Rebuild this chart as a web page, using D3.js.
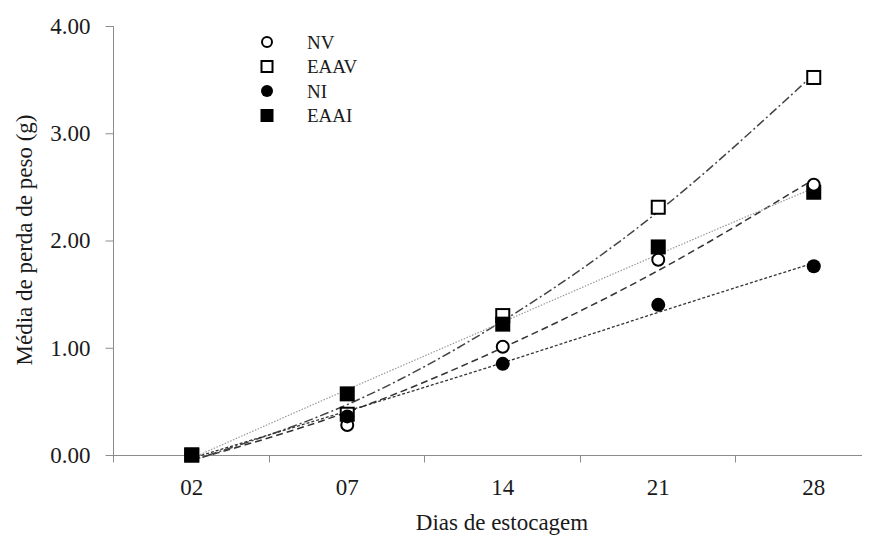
<!DOCTYPE html>
<html>
<head>
<meta charset="utf-8">
<script src="https://cdn.jsdelivr.net/npm/d3@7"></script>
<style>
  body { margin: 0; background: #fff; }
  text { font-family: "Liberation Serif", "Times New Roman", serif; fill: #1a1a1a; }
</style>
</head>
<body>
<div id="chart-area"></div>
<script>
const W = 881, H = 536
const MARGIN = { LEFT: 114, RIGHT: 19, TOP: 26, BOTTOM: 81 }

const dias = ["02", "07", "14", "21", "28"]
const yTicks = [0, 1, 2, 3, 4]

// observed means
const nv   = [0, 0.28, 1.01, 1.82, 2.52]
const eaav = [0, 0.38, 1.30, 2.31, 3.52]
const ni   = [0, 0.36, 0.85, 1.40, 1.76]
const eaai = [0, 0.57, 1.22, 1.94, 2.45]

// trend lines, read at each day
const trendNV   = [-0.05, 0.40, 1.00, 1.72, 2.57]
const trendEAAV = [-0.05, 0.47, 1.25, 2.27, 3.55]
const trendNI   = [-0.03, 0.41, 0.86, 1.33, 1.79]
const trendEAAI = [-0.03, 0.61, 1.24, 1.87, 2.49]

const series = [
  { name: "NV",   values: nv,   trend: trendNV,   symbol: "circle", filled: false, dash: "7,4",     stroke: "#333", sw: 1.5 },
  { name: "EAAV", values: eaav, trend: trendEAAV, symbol: "square", filled: false, dash: "9,3,2,3", stroke: "#444", sw: 1.5 },
  { name: "NI",   values: ni,   trend: trendNI,   symbol: "circle", filled: true,  dash: "3,2",     stroke: "#333", sw: 1.3 },
  { name: "EAAI", values: eaai, trend: trendEAAI, symbol: "square", filled: true,  dash: "1.5,1.5", stroke: "#9a9a9a", sw: 1.2 }
]

const x = d3.scaleBand()
  .domain(dias)
  .range([MARGIN.LEFT, MARGIN.LEFT + 5 * 155.5])
  .padding(0)

const y = d3.scaleLinear()
  .domain([0, 4])
  .range([H - MARGIN.BOTTOM, MARGIN.TOP])   // 0 at 455, 4 at 26

const axisColor = "#8c8c8c"
const xEnd = 862

const svg = d3.select("#chart-area").append("svg")
  .attr("width", W)
  .attr("height", H)

// y axis
svg.append("g")
  .attr("transform", `translate(${MARGIN.LEFT - 0.5},0)`)
  .call(d3.axisLeft(y).tickValues(yTicks).tickFormat(d3.format(".2f")).tickSize(8).tickPadding(15).tickSizeOuter(0))
  .call(g => g.select(".domain").attr("stroke", axisColor).attr("d", `M0,${y(4)}V${y(0) + 7}`))
  .call(g => g.selectAll(".tick line").attr("stroke", axisColor))
  .call(g => g.selectAll(".tick text").attr("font-size", 23).attr("fill", "#1a1a1a"))

// x axis
svg.append("g")
  .attr("transform", `translate(0,${y(0) + 0.5})`)
  .call(d3.axisBottom(x).tickSize(0).tickPadding(23))
  .call(g => g.select(".domain").remove())
  .call(g => g.selectAll(".tick text").attr("font-size", 23).attr("fill", "#1a1a1a"))
  .call(g => g.append("line")
      .attr("x1", MARGIN.LEFT - 8).attr("x2", xEnd)
      .attr("stroke", axisColor))
  .call(g => g.selectAll(".btick")
    .data(dias)
    .join("line")
      .attr("class", "btick")
      .attr("x1", d => Math.round(x(d)) - 0.5)
      .attr("x2", d => Math.round(x(d)) - 0.5)
      .attr("y1", 0).attr("y2", 7)
      .attr("stroke", axisColor))

// axis titles
svg.append("text")
  .attr("x", (MARGIN.LEFT + xEnd) / 2 + 14)
  .attr("y", 530)
  .attr("text-anchor", "middle")
  .attr("font-size", 23)
  .text("Dias de estocagem")

svg.append("text")
  .attr("transform", `translate(32,${240}) rotate(-90)`)
  .attr("text-anchor", "middle")
  .attr("font-size", 23)
  .text("Média de perda de peso (g)")

// trend lines
const cx = d => x(d) + x.bandwidth() / 2
const line = d3.line()
  .x((d, i) => cx(dias[i]))
  .y(d => y(d))
  .curve(d3.curveNatural)

svg.append("g")
  .selectAll("path")
  .data(series)
  .join("path")
    .attr("fill", "none")
    .attr("stroke", s => s.stroke)
    .attr("stroke-width", s => s.sw)
    .attr("stroke-dasharray", s => s.dash)
    .attr("d", s => line(s.trend))

// markers
function drawSymbol(g, s, size) {
  if (s.symbol === "circle") {
    const r = s.filled ? size / 2 : size / 2 - 1
    g.append("circle")
      .attr("r", r)
      .attr("fill", s.filled ? "#000" : "#fff")
      .attr("stroke", "#000")
      .attr("stroke-width", s.filled ? 0 : 2)
  } else {
    const a = s.filled ? size : size - 2
    g.append("rect")
      .attr("x", -a / 2).attr("y", -a / 2)
      .attr("width", a).attr("height", a)
      .attr("fill", s.filled ? "#000" : "#fff")
      .attr("stroke", "#000")
      .attr("stroke-width", s.filled ? 0 : 2)
  }
}

const drawOrder = [series[1], series[3], series[0], series[2]]
drawOrder.forEach(s => {
  svg.append("g")
    .selectAll("g")
    .data(s.values)
    .join("g")
      .attr("transform", (v, i) => `translate(${cx(dias[i])},${y(v)})`)
      .each(function () { drawSymbol(d3.select(this), s, s.symbol === "circle" ? 14 : 15) })
})

// legend
const legend = svg.append("g").attr("transform", "translate(267,42)")
series.forEach((s, i) => {
  const row = legend.append("g").attr("transform", `translate(0,${i * 24.5})`)
  drawSymbol(row, s, s.symbol === "circle" ? 12 : 13)
  row.append("text")
    .attr("x", 40)
    .attr("dy", "0.35em")
    .attr("font-size", 19)
    .text(s.name)
})
</script>
</body>
</html>
